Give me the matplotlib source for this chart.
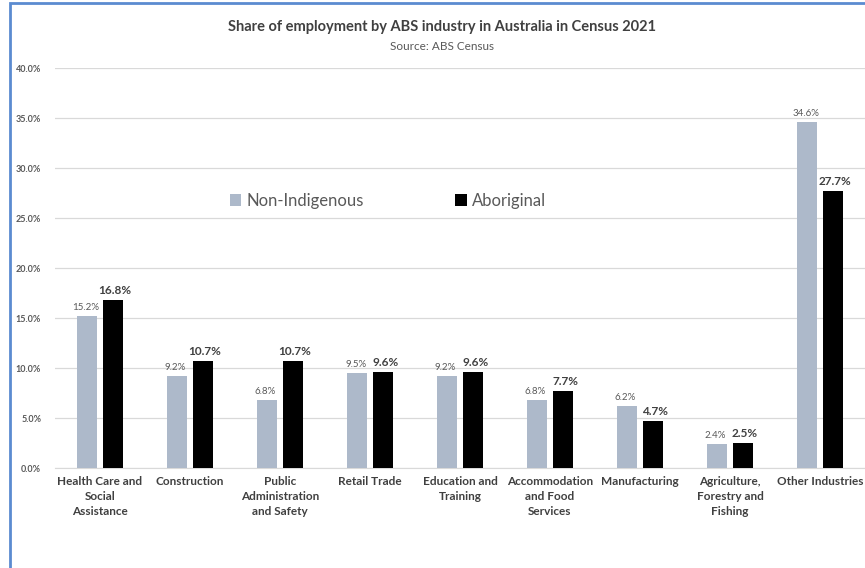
import numpy as np
import matplotlib.pyplot as plt
from matplotlib.patches import Rectangle
from matplotlib.ticker import FuncFormatter

# Employment share by industry, Census 2021 (%)
industries = ["Health Care and\nSocial\nAssistance", "Construction",
              "Public\nAdministration\nand Safety", "Retail Trade",
              "Education and\nTraining", "Accommodation\nand Food\nServices",
              "Manufacturing", "Agriculture,\nForestry and\nFishing",
              "Other Industries"]
non_indigenous = [15.2, 9.2, 6.8, 9.5, 9.2, 6.8, 6.2, 2.4, 34.6]
aboriginal = [16.8, 10.7, 10.7, 9.6, 9.6, 7.7, 4.7, 2.5, 27.7]

plt.rcParams['font.family'] = ['Lato', 'DejaVu Sans']

fig = plt.figure(figsize=(8.65, 5.68), dpi=100)
ax = fig.add_axes([0.0636, 0.176, 0.9364, 0.704])

x = np.arange(len(industries))
w = 0.222
grey = "#adb9ca"
b1 = ax.bar(x - 0.14, non_indigenous, w, color=grey, label="Non-Indigenous", zorder=3)
b2 = ax.bar(x + 0.148, aboriginal, w, color="black", label="Aboriginal", zorder=3)

for r, v in zip(b1, non_indigenous):
    ax.text(r.get_x() + r.get_width() / 2 - 0.02, v + 0.45, f"{v:.1f}%",
            ha="center", va="bottom", fontsize=7, color="#595959")
for r, v in zip(b2, aboriginal):
    ax.text(r.get_x() + r.get_width() / 2 + 0.02, v + 0.45, f"{v:.1f}%",
            ha="center", va="bottom", fontsize=8.5, fontweight="bold", color="#404040")

ax.set_ylim(0, 40)
ax.set_xlim(-0.5, len(industries) - 0.5)
ax.set_yticks(np.arange(0, 40.1, 5))
ax.yaxis.set_major_formatter(FuncFormatter(lambda v, p: f"{v:.1f}%"))
ax.set_xticks(x)
ax.set_xticklabels(industries, fontsize=8.5, fontweight="bold", color="#404040",
                   linespacing=1.4)
ax.tick_params(axis="y", labelsize=6.5, colors="#595959", length=0, pad=10)
ax.tick_params(axis="x", length=0, pad=6)
for lab in ax.get_yticklabels():
    lab.set_fontweight("bold")
ax.grid(axis="y", color="#d9d9d9", linewidth=0.9, zorder=0)
for s in ["top", "right", "left"]:
    ax.spines[s].set_visible(False)
ax.spines["bottom"].set_color("#d9d9d9")

ax.legend(loc="upper left", bbox_to_anchor=(0.197, 0.725), ncol=2, frameon=False,
          fontsize=12, handlelength=0.7, handleheight=0.7, handletextpad=0.3,
          columnspacing=5.5, labelcolor="#595959")

fig.text(0.511, 0.952, "Share of employment by ABS industry in Australia in Census 2021",
         ha="center", va="center", fontsize=10.5, fontweight="bold", color="#404040")
fig.text(0.511, 0.919, "Source: ABS Census", ha="center", va="center",
         fontsize=8.5, color="#595959")

# chart frame
fig.add_artist(Rectangle((9.5 / 865, -0.05), 2, 1.045, transform=fig.transFigure,
                         fill=False, edgecolor="#5b8bd0", linewidth=2))

fig.savefig("out.png", dpi=100)
